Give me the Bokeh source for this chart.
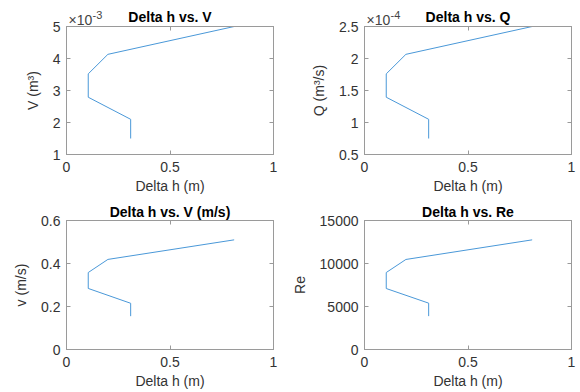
from bokeh.plotting import figure
from bokeh.models import Range1d, FixedTicker, CustomJSTickFormatter, Label, LinearAxis
from bokeh.layouts import column, row
from bokeh.embed import file_html
from bokeh.resources import INLINE

# ---- data ----
delta_h = [0.31, 0.31, 0.105, 0.105, 0.20, 0.81]          # m
volume = [1.50e-3, 2.10e-3, 2.79e-3, 3.52e-3, 4.13e-3, 5.00e-3]   # m^3
flow = [0.75e-4, 1.05e-4, 1.395e-4, 1.76e-4, 2.065e-4, 2.50e-4]   # m^3/s
velocity = [0.155, 0.215, 0.284, 0.358, 0.419, 0.510]     # m/s
reynolds = [3880, 5390, 7090, 8950, 10470, 12750]

x_ticks = [0, 0.5, 1]
vol_ticks = [1e-3, 2e-3, 3e-3, 4e-3, 5e-3]
flow_ticks = [0.5e-4, 1.0e-4, 1.5e-4, 2.0e-4, 2.5e-4]
vel_ticks = [0, 0.2, 0.4, 0.6]
re_ticks = [0, 5000, 10000, 15000]

FONT = "Liberation Sans"
AX = "#9a9a9a"
TXT = "#333333"
LINE = "#4a98d8"
FW = 207
STRIP_H = 30
OVERLAP = 16


def style_axis(a):
    a.axis_line_color = AX
    a.major_tick_line_color = AX
    a.major_tick_in = 4
    a.major_tick_out = 0
    a.minor_tick_line_color = None
    a.major_label_text_font = FONT
    a.major_label_text_font_size = "14px"
    a.major_label_text_color = TXT
    a.axis_label_text_font = FONT
    a.axis_label_text_font_size = "14px"
    a.axis_label_text_font_style = "normal"
    a.axis_label_text_color = TXT


def box_axis(ticks, loc, p):
    ax = LinearAxis(ticker=FixedTicker(ticks=ticks),
                    formatter=CustomJSTickFormatter(code="return '';"))
    style_axis(ax)
    ax.major_label_text_font_size = "0px"
    ax.major_label_standoff = 0
    p.add_layout(ax, loc)


def strip(bl, br, title, ty, exp_text):
    # a strip above each panel holding its title; its frame lines up with the panel frame
    s = figure(output_backend="svg", toolbar_location=None,
               frame_width=FW, frame_height=STRIP_H,
               min_border_left=bl, min_border_right=br,
               min_border_top=0, min_border_bottom=0,
               x_range=Range1d(0, 1), y_range=Range1d(0, STRIP_H),
               x_axis_location=None, y_axis_location=None,
               outline_line_color=None,
               background_fill_color=None, border_fill_color=None)
    s.grid.visible = False
    s.add_layout(Label(x=0.5, y=ty, text=title, text_font=FONT,
                       text_font_size="14px", text_font_style="bold",
                       text_color="black", text_align="center",
                       text_baseline="middle"))
    if exp_text is not None:
        s.add_layout(Label(x=0, y=ty - 3.5, x_offset=2, text="\u00d710", text_font=FONT,
                           text_font_size="14px", text_color="#444444",
                           text_baseline="middle"))
        s.add_layout(Label(x=0, y=ty + 1.5, x_offset=26, text=exp_text, text_font=FONT,
                           text_font_size="11px", text_color="#444444",
                           text_baseline="middle"))
    return s


def make(y, ylabel, yr, yticks, scale, bl, bt, fh, bb, br):
    p = figure(output_backend="svg", toolbar_location=None,
               frame_width=FW, frame_height=fh,
               min_border_left=bl, min_border_top=bt,
               min_border_bottom=bb, min_border_right=br,
               x_range=Range1d(0, 1), y_range=Range1d(*yr),
               background_fill_color="white", border_fill_color=None,
               margin=(-OVERLAP, 0, 0, 0))
    p.line(delta_h, y, line_color=LINE, line_width=1)
    p.grid.visible = False
    p.outline_line_color = AX
    p.outline_line_width = 1

    xa = p.xaxis[0]
    ya = p.yaxis[0]
    xa.ticker = FixedTicker(ticks=x_ticks)
    xa.formatter = CustomJSTickFormatter(code="return String(tick);")
    ya.ticker = FixedTicker(ticks=yticks)
    ya.formatter = CustomJSTickFormatter(
        code="return String(Math.round(tick*%g*10)/10);" % scale)
    xa.axis_label = "Delta h (m)"
    ya.axis_label = ylabel
    style_axis(xa)
    style_axis(ya)
    xa.major_label_standoff = 7
    xa.axis_label_standoff = 3
    ya.major_label_standoff = 6
    ya.axis_label_standoff = 9
    box_axis(x_ticks, "above", p)
    box_axis(yticks, "right", p)
    return p


s1 = strip(66, 15, "Delta h vs. V", 14, "-3")
p1 = make(volume, "V (m\u00b3)", (1e-3, 5e-3), vol_ticks, 1e3, 66, 12, 128, 42, 15)
s2 = strip(76, 8, "Delta h vs. Q", 14, "-4")
p2 = make(flow, "Q (m\u00b3/s)", (0.5e-4, 2.5e-4), flow_ticks, 1e4, 76, 12, 128, 42, 8)
s3 = strip(66, 15, "Delta h vs. V (m/s)", 15, None)
p3 = make(velocity, "v (m/s)", (0, 0.6), vel_ticks, 1, 66, 10, 129, 42, 15)
s4 = strip(76, 8, "Delta h vs. Re", 15, None)
p4 = make(reynolds, "Re", (0, 15000), re_ticks, 1, 76, 10, 129, 42, 8)

layout = column(
    row(column(s1, p1, spacing=0), column(s2, p2, spacing=0), spacing=0),
    row(column(s3, p3, spacing=0), column(s4, p4, spacing=0), spacing=0),
    spacing=0)
open("out.html", "w").write(file_html(layout, INLINE))
